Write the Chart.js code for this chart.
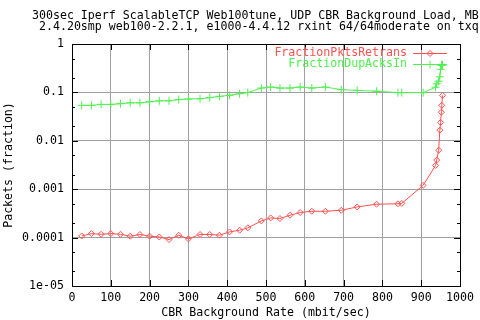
<!DOCTYPE html>
<html>
<head>
<meta charset="utf-8">
<script src="https://cdn.jsdelivr.net/npm/chart.js@4/dist/chart.umd.min.js"></script>
<style>
  html, body { margin: 0; padding: 0; background: #fff; }
  canvas { display: block; }
</style>
</head>
<body>
<canvas id="chart" width="480" height="320"></canvas>
<script>
// Datos (tasa CBR en mbit/sec)
const titleLines = [
    '300sec Iperf ScalableTCP Web100tune, UDP CBR Background Load, MB',
    ' 2.4.20smp web100-2.2.1, e1000-4.4.12 rxint 64/64moderate on txq'
];
const rates = [25, 50, 75, 100, 125, 150, 175, 200, 225, 250, 275, 300, 330, 355, 380, 406, 432, 453,
    488, 512, 536, 562, 588, 618, 653, 694, 735, 785, 840, 850, 905, 937, 940, 945, 948, 950, 952, 953, 955];
const pktsRetrans = [1.08e-4, 1.21e-4, 1.17e-4, 1.21e-4, 1.17e-4, 1.07e-4, 1.16e-4, 1.07e-4, 1.03e-4, 0.91e-4,
    1.12e-4, 0.94e-4, 1.16e-4, 1.16e-4, 1.12e-4, 1.31e-4, 1.42e-4, 1.59e-4,
    2.21e-4, 2.55e-4, 2.48e-4, 2.9e-4, 3.3e-4, 3.5e-4, 3.5e-4, 3.67e-4, 4.3e-4, 4.9e-4, 5.0e-4, 5.1e-4,
    1.2e-3, 3.1e-3, 4.0e-3, 6.4e-3, 0.0166, 0.024, 0.039, 0.054, 0.087];
const dupAcksIn = [0.054, 0.054, 0.0565, 0.0565, 0.0584, 0.061, 0.061, 0.064, 0.067, 0.067, 0.071, 0.073,
    0.074, 0.078, 0.083, 0.087, 0.094, 0.099,
    0.123, 0.129, 0.123, 0.123, 0.129, 0.123, 0.129, 0.114, 0.110, 0.106, 0.099, 0.099,
    0.099, 0.128, 0.15, 0.17, 0.21, 0.30, 0.36, 0.37, 0.37];
const xTickLabels = ['0', '100', '200', '300', '400', '500', '600', '700', '800', '900', '1000'];
const yTickValues = [1e-5, 1e-4, 1e-3, 1e-2, 1e-1, 1];
const yTickLabels = ['1e-05', '0.0001', '0.001', '0.01', '0.1', '1'];
const yMinorFactors = [2, 5];
const seriesLabels = ['FractionPktsRetrans', 'FractionDupAcksIn'];

const RED = '#ff5050';
const GREEN = '#50f050';
const GRID = '#a0a0a0';
const FONT = { family: '"DejaVu Sans Mono", monospace', size: 11.6 };
const FONT_CSS = '11.6px "DejaVu Sans Mono", monospace';

// Ticks del eje Y: décadas + menores en 2 y 5
const yAllTicks = [];
yTickValues.forEach((v, i) => {
    yAllTicks.push(v);
    if (i < yTickValues.length - 1) {
        yMinorFactors.forEach(f => yAllTicks.push(v * f));
    }
});
const isMajor = v => yTickValues.some(m => Math.abs(m - v) / m < 1e-9);

// Marco, marcas interiores, título y leyenda al estilo gnuplot
const gnuplotFrame = {
    id: 'gnuplotFrame',
    afterDraw(chart) {
        const { ctx, chartArea: a, scales } = chart;
        ctx.save();
        ctx.strokeStyle = '#000';
        ctx.lineWidth = 1;
        ctx.strokeRect(Math.round(a.left) + 0.5, Math.round(a.top) + 0.5,
            Math.round(a.right - a.left), Math.round(a.bottom - a.top));

        ctx.beginPath();
        scales.y.ticks.forEach(t => {
            const py = Math.round(scales.y.getPixelForValue(t.value)) + 0.5;
            const len = isMajor(t.value) ? 6 : 3;
            ctx.moveTo(a.left, py); ctx.lineTo(a.left + len, py);
            ctx.moveTo(a.right, py); ctx.lineTo(a.right - len, py);
        });
        scales.x.ticks.forEach(t => {
            const px = Math.round(scales.x.getPixelForValue(t.value)) + 0.5;
            ctx.moveTo(px, a.bottom); ctx.lineTo(px, a.bottom - 6);
            ctx.moveTo(px, a.top); ctx.lineTo(px, a.top + 6);
        });
        ctx.stroke();

        // Título
        ctx.fillStyle = '#000';
        ctx.font = FONT_CSS;
        ctx.textBaseline = 'middle';
        ctx.textAlign = 'left';
        ctx.fillText(titleLines[0], 32, 16);
        ctx.fillText(titleLines[1], 32, 27);

        // Leyenda
        chart.data.datasets.forEach((ds, i) => {
            const y = 53 + i * 11;
            ctx.fillStyle = ds.borderColor;
            ctx.textAlign = 'right';
            ctx.fillText(ds.label, 407, y);
            ctx.strokeStyle = ds.borderColor;
            ctx.lineWidth = 1;
            ctx.beginPath();
            ctx.moveTo(413, y + 0.5);
            ctx.lineTo(447, y + 0.5);
            ctx.stroke();
            ctx.fillStyle = 'rgba(0,0,0,0)';
            Chart.helpers.drawPoint(ctx, {
                pointStyle: ds.pointStyle, radius: ds.pointRadius,
                borderWidth: 1, rotation: 0
            }, 430, y + 0.5);
        });
        ctx.restore();
    }
};

new Chart(document.getElementById('chart').getContext('2d'), {
    type: 'line',
    data: {
        datasets: [{
            label: seriesLabels[0],
            data: rates.map((x, i) => ({ x, y: pktsRetrans[i] })),
            borderColor: RED,
            backgroundColor: 'rgba(0,0,0,0)',
            borderWidth: 1,
            pointStyle: 'rectRot',
            pointRadius: 3,
            pointBorderWidth: 1,
            pointBorderColor: RED,
            pointBackgroundColor: 'rgba(0,0,0,0)',
            tension: 0
        }, {
            label: seriesLabels[1],
            data: rates.map((x, i) => ({ x, y: dupAcksIn[i] })),
            borderColor: GREEN,
            backgroundColor: 'rgba(0,0,0,0)',
            borderWidth: 1,
            pointStyle: 'cross',
            pointRadius: 4,
            pointBorderWidth: 1,
            pointBorderColor: GREEN,
            tension: 0
        }]
    },
    options: {
        responsive: false,
        animation: false,
        devicePixelRatio: 1,
        layout: { padding: { top: 44, right: 20, left: 0, bottom: 0 } },
        plugins: {
            legend: { display: false },
            title: { display: false },
            tooltip: { enabled: false }
        },
        scales: {
            x: {
                type: 'linear',
                min: 0,
                max: 1000,
                ticks: {
                    stepSize: 100,
                    color: '#000',
                    font: FONT,
                    padding: 5,
                    maxRotation: 0,
                    autoSkip: false,
                    callback: (v, i) => xTickLabels[i] !== undefined ? xTickLabels[i] : String(v)
                },
                grid: { color: GRID, lineWidth: 1, drawTicks: false },
                border: { color: '#000' },
                title: {
                    display: true,
                    text: 'CBR Background Rate (mbit/sec)',
                    color: '#000',
                    font: FONT,
                    padding: { top: 0, bottom: 0 }
                },
                afterFit: s => { s.height = 34; }
            },
            y: {
                type: 'logarithmic',
                min: 1e-5,
                max: 1,
                afterBuildTicks: s => { s.ticks = yAllTicks.map(v => ({ value: v })); },
                ticks: {
                    color: '#000',
                    font: FONT,
                    padding: 8,
                    autoSkip: false,
                    callback: v => {
                        const i = yTickValues.findIndex(m => Math.abs(m - v) / m < 1e-9);
                        return i >= 0 ? yTickLabels[i] : '';
                    }
                },
                grid: {
                    drawTicks: false,
                    lineWidth: 1,
                    color: c => (c.tick && isMajor(c.tick.value)) ? GRID : 'rgba(0,0,0,0)'
                },
                border: { color: '#000' },
                title: {
                    display: true,
                    text: 'Packets (fraction)',
                    color: '#000',
                    font: FONT,
                    padding: { top: 2, bottom: 0 }
                },
                afterFit: s => { s.width = 72; }
            }
        }
    },
    plugins: [gnuplotFrame]
});
</script>
</body>
</html>
